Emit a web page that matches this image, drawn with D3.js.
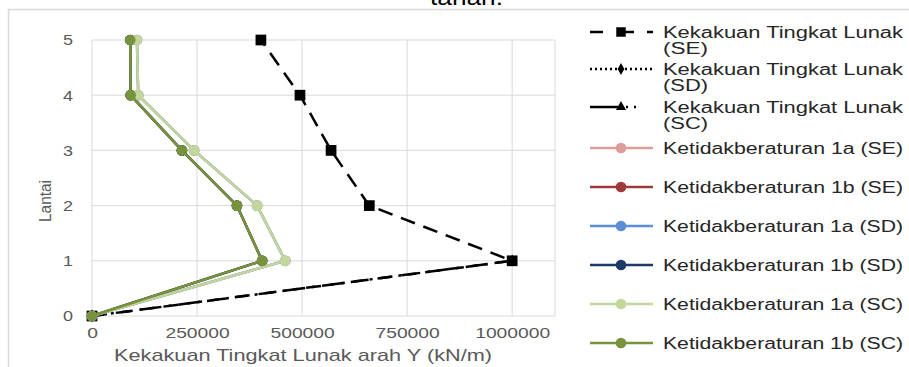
<!DOCTYPE html>
<html>
<head>
<meta charset="utf-8">
<script src="https://cdn.jsdelivr.net/npm/d3@7"></script>
<style>
  body { margin: 0; background: #fff; }
  text { font-family: "Liberation Sans", Arial, sans-serif; }
</style>
</head>
<body>
<svg id="chart" width="909" height="367"></svg>
<script>
// floors (Lantai)
let floors = [0, 1, 2, 3, 4, 5]
let xTicks = [0, 250000, 500000, 750000, 1000000]

// soft storey stiffness (black series)
let kekakuanSE = [0, 1000000, 660000, 569000, 495000, 402000]
let kekakuanSD = [0]
let kekakuanSC = [0, 1000000]

// irregularity 1a / 1b (same values for SE, SD, SC)
let ket1a = [0, 460000, 393000, 243000, 110000, 107000]
let ket1b = [0, 405000, 345000, 214000, 92000, 91000]

let legendNames = [
  ["Kekakuan Tingkat Lunak", "(SE)"],
  ["Kekakuan Tingkat Lunak", "(SD)"],
  ["Kekakuan Tingkat Lunak", "(SC)"],
  ["Ketidakberaturan 1a (SE)"],
  ["Ketidakberaturan 1b (SE)"],
  ["Ketidakberaturan 1a (SD)"],
  ["Ketidakberaturan 1b (SD)"],
  ["Ketidakberaturan 1a (SC)"],
  ["Ketidakberaturan 1b (SC)"]
]
let colors = ["#000", "#000", "#000", "#DE9C9A", "#9E3A38", "#5A8FD8", "#1C3A66", "#C3D69B", "#77933C"]

let svg = d3.select("#chart")

// outer chart border (mostly cropped)
svg.append("rect")
  .attr("x", 8.5).attr("y", 9.5)
  .attr("width", 1000).attr("height", 400)
  .attr("fill", "none").attr("stroke", "#d9d9d9").attr("stroke-width", 1.5)

// clipped title
svg.append("text")
  .attr("x", 430).attr("y", 5)
  .attr("font-size", "22px")
  .attr("textLength", 73).attr("lengthAdjust", "spacingAndGlyphs")
  .attr("fill", "#000")
  .text("tanah.")

let pLeft = 92, pRight = 555, pTop = 40, pBottom = 316

let x = d3.scaleLinear().domain([0, 1102000]).range([pLeft, pRight])
let y = d3.scaleLinear().domain([0, 5]).range([pBottom, pTop])

// grid
let grid = svg.append("g")
grid.selectAll(".hg").data(floors).enter().append("line")
  .attr("x1", pLeft).attr("x2", pRight)
  .attr("y1", (d) => y(d)).attr("y2", (d) => y(d))
  .attr("stroke", "#d9d9d9").attr("stroke-width", 1)
grid.selectAll(".vg").data(xTicks.concat([1102000])).enter().append("line")
  .attr("x1", (d) => x(d)).attr("x2", (d) => x(d))
  .attr("y1", pTop).attr("y2", pBottom)
  .attr("stroke", "#d9d9d9").attr("stroke-width", 1)

// axes (labels only)
let xAxis = svg.append("g")
  .attr("transform", "translate(0," + pBottom + ")")
  .call(d3.axisBottom(x).tickValues(xTicks).tickSize(0).tickPadding(11).tickFormat(d3.format("d")))
xAxis.select(".domain").remove()
xAxis.selectAll("text")
  .attr("font-size", "15px").attr("fill", "#595959")
  .attr("font-family", "Liberation Sans, Arial, sans-serif")
  .attr("textLength", (d) => String(d).length * 10.7)
  .attr("lengthAdjust", "spacingAndGlyphs")

let yAxis = svg.append("g")
  .attr("transform", "translate(" + pLeft + ",0)")
  .call(d3.axisLeft(y).tickValues(floors).tickSize(0).tickPadding(19).tickFormat(d3.format("d")))
yAxis.select(".domain").remove()
yAxis.selectAll("text")
  .attr("font-size", "15px").attr("fill", "#595959")
  .attr("font-family", "Liberation Sans, Arial, sans-serif")
  .attr("textLength", 10).attr("lengthAdjust", "spacingAndGlyphs")

// axis titles
svg.append("text")
  .attr("x", 114).attr("y", 361)
  .attr("font-size", "17px").attr("fill", "#595959")
  .attr("textLength", 378).attr("lengthAdjust", "spacingAndGlyphs")
  .text("Kekakuan Tingkat Lunak arah Y (kN/m)")

svg.append("text")
  .attr("transform", "translate(51,222) rotate(-90)")
  .attr("font-size", "16px").attr("fill", "#595959")
  .attr("textLength", 42).attr("lengthAdjust", "spacingAndGlyphs")
  .text("Lantai")

let line = d3.line()
  .x((d) => x(d.v))
  .y((d) => y(d.f))

function pts(vals) {
  return vals.map((v, i) => ({ f: floors[i], v: v }))
}

let plot = svg.append("g")

function drawSeries(vals, color, dash, marker, size) {
  let d = pts(vals)
  plot.append("path")
    .datum(d)
    .attr("fill", "none")
    .attr("stroke", color)
    .attr("stroke-width", 2.5)
    .attr("stroke-dasharray", dash)
    .attr("d", line)
  plot.selectAll(null).data(d).enter().append("path")
    .attr("transform", (p) => "translate(" + x(p.v) + "," + y(p.f) + ")")
    .attr("d", d3.symbol().type(marker).size(size))
    .attr("fill", color)
}

// hidden-under series first
drawSeries(kekakuanSD, "#000", "2,3", d3.symbolDiamond, 50)
drawSeries(kekakuanSC, "#000", "12,7,3,7", d3.symbolTriangle, 50)
drawSeries(kekakuanSE, "#000", "15,9", d3.symbolSquare, 115)
drawSeries(ket1a, colors[3], null, d3.symbolCircle, 90)
drawSeries(ket1b, colors[4], null, d3.symbolCircle, 90)
drawSeries(ket1a, colors[5], null, d3.symbolCircle, 90)
drawSeries(ket1b, colors[6], null, d3.symbolCircle, 90)
drawSeries(ket1a, colors[7], null, d3.symbolCircle, 90)
drawSeries(ket1b, colors[8], null, d3.symbolCircle, 90)

// legend
let legendY = [32, 69, 107, 148, 187, 226, 265, 304, 343]
let dashes = ["13,18,13", "2,3", null, null, null, null, null, null, null]
let markers = [d3.symbolSquare, d3.symbolDiamond, d3.symbolTriangle, d3.symbolCircle, d3.symbolCircle,
  d3.symbolCircle, d3.symbolCircle, d3.symbolCircle, d3.symbolCircle]
let msize = [90, 40, 45, 90, 90, 90, 90, 90, 90]

let legend = svg.append("g")
legendNames.forEach((names, i) => {
  let ly = legendY[i]
  if (i == 2) {
    legend.append("line").attr("x1", 590).attr("x2", 618).attr("y1", ly).attr("y2", ly)
      .attr("stroke", "#000").attr("stroke-width", 2.5)
    legend.append("line").attr("x1", 626).attr("x2", 640).attr("y1", ly).attr("y2", ly)
      .attr("stroke", "#000").attr("stroke-width", 2.5).attr("stroke-dasharray", "2,6")
  } else {
    legend.append("line").attr("x1", 590).attr("x2", 653).attr("y1", ly).attr("y2", ly)
      .attr("stroke", colors[i]).attr("stroke-width", 2.5)
      .attr("stroke-dasharray", dashes[i])
  }
  legend.append("path")
    .attr("transform", "translate(621," + ly + ")")
    .attr("d", d3.symbol().type(markers[i]).size(msize[i]))
    .attr("fill", colors[i])
  names.forEach((n, j) => {
    legend.append("text")
      .attr("x", 663).attr("y", ly + 6 + j * 16)
      .attr("font-size", "16px").attr("fill", "#262626")
      .attr("textLength", n.length > 10 ? 240 : 45)
      .attr("lengthAdjust", "spacingAndGlyphs")
      .text(n)
  })
})
</script>
</body>
</html>
